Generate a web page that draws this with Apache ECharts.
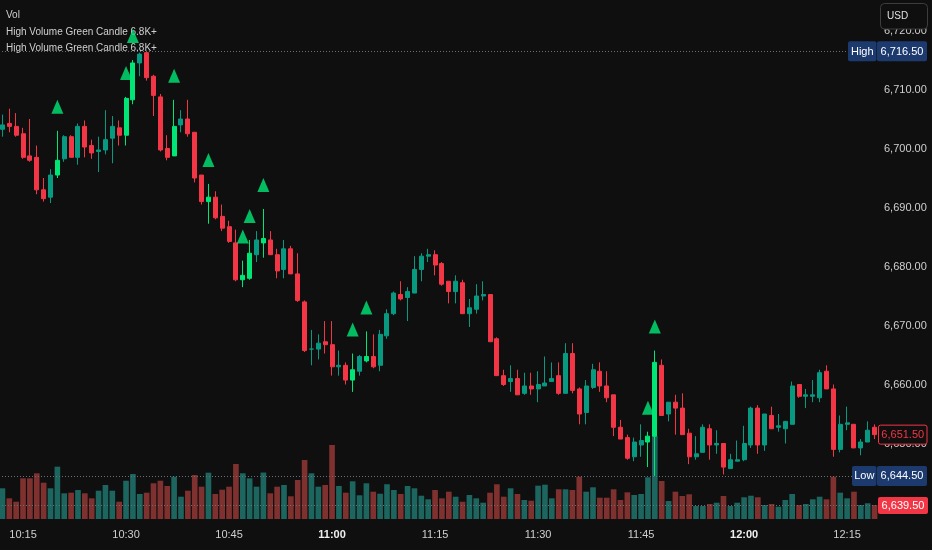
<!DOCTYPE html>
<html><head><meta charset="utf-8">
<script src="https://cdn.jsdelivr.net/npm/echarts@6/dist/echarts.min.js"></script>
<style>html,body{margin:0;padding:0;background:#0f0f0f;}#c{width:932px;height:550px;}</style>
</head><body><div id="c"></div>
<script>
// ---- data ----
const startTime = '10:12';
const candleCount = 128;
const times = [];
(function(){const p=startTime.split(':');let m=(+p[0])*60+(+p[1]);
for(let i=0;i<candleCount;i++,m++){times.push(Math.floor(m/60)+':'+String(m%60).padStart(2,'0'));}})();

const timeTicks = ['10:15','10:30','10:45','11:00','11:15','11:30','11:45','12:00','12:15'];

const opens = [
6703.25,6704.25,6703.75,6702.5,6698.75,6698.5,6693.0,6691.75,6695.5,6698.25,
6702.0,6698.5,6703.75,6700.5,6699.5,6699.75,6701.75,6703.5,6702.25,6708.25,
6714.5,6716.25,6712.25,6708.75,6700.0,6698.75,6704.0,6705.0,6702.75,6695.5,
6691.0,6691.75,6688.5,6686.75,6684.0,6677.75,6678.0,6682.0,6684.0,6684.5,
6682.0,6679.5,6683.0,6678.75,6674.0,6666.0,6666.0,6667.25,6666.75,6663.0,
6663.25,6660.75,6662.25,6664.0,6664.75,6663.25,6668.25,6672.0,6675.25,6674.75,
6675.5,6679.5,6681.75,6682.0,6680.5,6677.5,6675.75,6677.25,6672.0,6672.75,
6675.0,6675.25,6667.75,6661.5,6660.5,6661.0,6658.5,6659.75,6659.25,6659.75,
6660.5,6661.5,6658.5,6665.25,6659.25,6655.25,6659.5,6662.25,6659.75,6658.25,
6652.75,6651.0,6647.75,6649.75,6650.25,6651.25,6663.25,6655.0,6657.0,6656.0,
6651.75,6647.75,6648.5,6652.5,6649.75,6650.0,6645.75,6647.0,6647.25,6649.75,
6656.0,6649.75,6654.75,6652.75,6652.5,6653.25,6660.0,6658.0,6658.0,6657.75,
6662.25,6659.25,6649.0,6653.25,6653.25,6649.25,6650.25,6652.75];

const highs = [
6705.75,6706.75,6706.0,6703.5,6705.0,6700.5,6695.0,6696.5,6703.0,6702.25,
6702.25,6704.25,6704.75,6701.5,6702.0,6706.5,6705.5,6704.75,6708.75,6715.0,
6716.25,6716.5,6712.5,6709.25,6702.25,6708.25,6706.5,6708.25,6702.75,6695.5,
6694.0,6692.75,6690.5,6687.75,6686.25,6681.0,6684.5,6686.0,6689.75,6686.0,
6683.0,6684.5,6683.5,6682.25,6674.25,6669.25,6668.5,6670.75,6670.75,6665.75,
6663.75,6665.25,6665.0,6669.0,6668.5,6669.25,6672.75,6675.75,6677.5,6676.5,
6681.75,6682.25,6683.0,6682.75,6680.75,6677.5,6678.5,6677.75,6674.5,6677.0,
6677.5,6675.25,6668.0,6662.5,6663.25,6662.5,6662.0,6662.0,6662.25,6664.75,
6663.75,6663.75,6667.0,6667.0,6659.5,6660.75,6663.5,6663.75,6662.25,6658.25,
6654.0,6651.5,6651.0,6653.25,6652.0,6665.75,6664.25,6657.0,6658.25,6658.5,
6652.5,6651.25,6653.25,6653.25,6652.25,6650.0,6648.25,6650.5,6653.0,6656.25,
6656.5,6655.0,6656.25,6655.0,6653.75,6660.5,6660.0,6659.25,6660.75,6662.5,
6663.25,6660.0,6654.75,6656.25,6653.25,6650.75,6653.75,6653.25];

const lows = [
6702.0,6702.75,6702.0,6698.25,6697.75,6692.25,6691.0,6690.75,6695.0,6697.75,
6698.5,6697.25,6698.5,6698.25,6696.0,6699.0,6697.5,6700.5,6700.5,6707.5,
6712.25,6711.5,6705.5,6699.5,6698.0,6698.75,6702.75,6702.0,6694.25,6690.5,
6687.25,6688.0,6686.0,6684.0,6677.5,6676.5,6677.75,6680.75,6681.5,6682.0,
6678.0,6678.0,6678.75,6674.0,6665.5,6663.25,6664.25,6665.25,6661.5,6661.5,
6660.0,6658.75,6661.5,6663.75,6662.75,6662.25,6667.75,6671.75,6674.25,6670.75,
6675.5,6677.5,6680.75,6678.5,6676.75,6673.75,6673.75,6672.0,6669.75,6672.0,
6674.25,6667.25,6661.5,6659.75,6658.75,6658.25,6658.25,6658.25,6657.0,6659.75,
6660.5,6658.25,6658.5,6658.5,6653.25,6653.25,6659.25,6658.75,6657.0,6651.25,
6650.75,6647.25,6647.0,6647.75,6646.0,6644.5,6654.75,6653.75,6651.5,6651.5,
6646.5,6647.25,6648.5,6647.25,6648.25,6644.75,6645.75,6647.0,6647.0,6649.25,
6648.25,6648.75,6652.5,6652.0,6650.0,6653.25,6657.75,6656.0,6657.0,6657.0,
6659.25,6647.75,6648.5,6652.25,6649.25,6648.0,6650.25,6650.75];

const closes = [
6704.0,6703.75,6702.25,6698.5,6698.0,6693.0,6691.5,6695.5,6698.0,6702.0,
6698.5,6703.75,6700.25,6699.25,6699.75,6701.5,6703.75,6702.25,6708.5,6714.5,
6716.0,6712.0,6709.0,6699.75,6698.5,6703.75,6705.0,6702.5,6695.0,6691.0,
6691.75,6688.25,6686.5,6684.25,6677.75,6678.5,6682.25,6684.5,6684.75,6682.0,
6679.25,6683.0,6678.75,6674.25,6665.75,6666.0,6667.0,6666.75,6663.0,6663.25,
6660.75,6662.5,6664.75,6664.75,6663.0,6668.5,6672.0,6675.5,6674.5,6675.75,
6679.5,6681.75,6682.0,6680.25,6677.0,6675.75,6677.5,6672.0,6673.0,6675.0,
6675.25,6667.25,6661.5,6660.0,6661.0,6658.25,6659.75,6659.25,6660.0,6660.25,
6661.0,6658.5,6665.25,6659.0,6655.0,6659.75,6662.5,6659.75,6657.75,6652.75,
6650.75,6647.5,6650.25,6650.5,6651.25,6663.75,6654.75,6657.0,6656.0,6651.5,
6647.75,6648.25,6652.75,6649.75,6650.0,6646.0,6647.25,6647.25,6650.0,6656.0,
6649.75,6655.0,6652.5,6653.0,6653.75,6659.75,6658.0,6658.25,6658.25,6662.0,
6659.25,6649.0,6653.25,6653.5,6649.25,6650.25,6652.25,6651.5];

const volumes = [
5880,3960,3310,7790,7790,8750,6950,5880,10020,4920,
5040,5550,4920,3960,5420,6510,5420,3310,7330,8620,
4790,5040,6840,7330,6320,8100,4270,5420,8430,6190,
8870,4790,5610,6190,10530,8750,7790,6190,8900,4920,
6190,6510,4350,7470,11300,8750,6190,6510,14170,6320,
5040,7220,4540,6840,5230,4840,6660,5550,4790,6320,
5880,4460,3770,5550,3960,5230,4270,3310,4600,3960,
3120,5040,6650,4270,5880,4790,3640,3500,6380,6570,
3960,5690,5690,5550,8100,5230,6070,4080,4080,5690,
3640,5110,4600,4790,7990,15890,7280,3450,5230,4400,
4730,2490,2490,2870,3120,4400,2490,3120,4160,4460,
4160,2680,2870,2360,3640,4790,2680,2870,3770,4270,
3770,8100,5040,3960,5230,2680,3010,2680];

const highPrice = 6716.5;
const lowPrice = 6644.5;
const lastPrice = 6651.5;
const refPrice = 6639.5;
const volumeThreshold = 6800;
const legendLines = ['Vol', 'High Volume Green Candle 6.8K+', 'High Volume Green Candle 6.8K+'];

// ---- style ----
const BG = '#0f0f0f';
const UP = '#089981', DOWN = '#f23645', SIGNAL = '#00e676';
const TXT = '#cfcfcf';
const FONT = '"Liberation Sans", Arial, sans-serif';
const fmt = v => v.toLocaleString('en-US', {minimumFractionDigits: 2, maximumFractionDigits: 2});

const isSignal = i => closes[i] > opens[i] && volumes[i] >= volumeThreshold;

const candleData = times.map((t, i) => {
  const item = {value: [opens[i], closes[i], lows[i], highs[i]]};
  if (isSignal(i)) item.itemStyle = {color: SIGNAL, borderColor: SIGNAL};
  return item;
});
const volData = times.map((t, i) => ({
  value: volumes[i],
  itemStyle: {color: closes[i] >= opens[i] ? 'rgba(38,166,154,0.58)' : 'rgba(239,83,80,0.5)'}
}));
const signalData = [];
times.forEach((t, i) => { if (isSignal(i)) signalData.push([i, highs[i]]); });

const GRID_LEFT = -1, GRID_W = 879;
const option = {
  backgroundColor: BG,
  animation: false,
  grid: [
    {left: GRID_LEFT, top: -28.5, width: GRID_W, height: 590, containLabel: false, outerBoundsMode: 'none'},
    {left: GRID_LEFT, bottom: 31, width: GRID_W, height: 100, containLabel: false, outerBoundsMode: 'none'}
  ],
  xAxis: [
    {type: 'category', data: times, gridIndex: 0, boundaryGap: true, show: false},
    {type: 'category', data: times, gridIndex: 1, boundaryGap: true,
     axisLine: {show: false}, axisTick: {show: false}, splitLine: {show: false},
     axisLabel: {
       interval: (idx, val) => timeTicks.indexOf(val) >= 0,
       formatter: v => v.endsWith(':00') ? '{b|' + v + '}' : v,
       color: TXT, fontSize: 11, fontFamily: FONT, margin: 10,
       rich: {b: {fontWeight: 'bold', color: '#f0f0f0', fontSize: 11, fontFamily: FONT}}
     }}
  ],
  yAxis: [
    {type: 'value', gridIndex: 0, position: 'right', min: 6630, max: 6730, interval: 10,
     axisLine: {show: false}, axisTick: {show: false}, splitLine: {show: false},
     axisLabel: {formatter: v => fmt(v), color: TXT, fontSize: 11, fontFamily: FONT, margin: 6}},
    {type: 'value', gridIndex: 1, min: 0, max: 19150, show: false, splitLine: {show: false}}
  ],
  series: [
    {type: 'bar', name: 'Vol', xAxisIndex: 1, yAxisIndex: 1, data: volData, barWidth: '82%', z: 1},
    {type: 'candlestick', xAxisIndex: 0, yAxisIndex: 0, data: candleData, barWidth: 4.5, z: 3,
     itemStyle: {color: UP, color0: DOWN, borderColor: UP, borderColor0: DOWN, borderWidth: 1},
     markLine: {silent: true, symbol: ['none', 'none'], label: {show: false},
       lineStyle: {type: [1, 2], color: '#6b6e78', width: 1},
       data: [{yAxis: highPrice}, {yAxis: lowPrice}, {yAxis: refPrice}]}},
    {type: 'scatter', name: 'High Volume Green Candle', xAxisIndex: 0, yAxisIndex: 0, data: signalData,
     symbol: 'triangle', symbolSize: [12, 14], symbolOffset: [0, -24], z: 5,
     itemStyle: {color: SIGNAL}}
  ]
};

const chart = echarts.init(document.getElementById('c'));
chart.setOption(option);

const py = v => chart.convertToPixel({yAxisIndex: 0}, v);
const g = [];
function box(x, yc, w, h, fill, stroke, text, color) {
  g.push({type: 'rect', z: 100, shape: {x: x, y: yc - h / 2, width: w, height: h, r: 2},
          style: {fill: fill, stroke: stroke || null, lineWidth: stroke ? 1 : 0}});
  g.push({type: 'text', z: 101, style: {text: text, x: x + w / 2, y: yc + 0.5, align: 'center', verticalAlign: 'middle',
          fill: color, font: '11px ' + FONT}});
}
const BLUE = '#1d3a6f';
const yh = py(highPrice), yl = py(lowPrice), ylast = py(lastPrice), yref = py(refPrice);
box(848, yh, 28.5, 20, BLUE, null, 'High', '#ffffff');
box(877, yh, 50, 20, BLUE, null, fmt(highPrice), '#ffffff');
box(852, yl, 24.5, 20, BLUE, null, 'Low', '#ffffff');
box(877, yl, 50, 20, BLUE, null, fmt(lowPrice), '#ffffff');
box(878.5, ylast, 48.5, 19, BG, DOWN, fmt(lastPrice), DOWN);
box(878, yref, 50, 17, DOWN, null, fmt(refPrice), '#ffffff');
// currency button
g.push({type: 'rect', z: 100, shape: {x: 880.5, y: 3.5, width: 47, height: 25.5, r: 4},
        style: {fill: BG, stroke: '#3d3d3d', lineWidth: 1}});
g.push({type: 'text', z: 101, style: {text: 'USD', x: 887, y: 16, align: 'left', verticalAlign: 'middle',
        fill: '#e0e0e0', font: '10px ' + FONT}});
// legend lines
legendLines.forEach((t, i) => {
  g.push({type: 'text', z: 0, style: {text: t, x: 6, y: 15.5 + i * 16.5, align: 'left', verticalAlign: 'middle',
          fill: TXT, font: '10px ' + FONT}});
});
chart.setOption({graphic: g});
</script></body></html>
